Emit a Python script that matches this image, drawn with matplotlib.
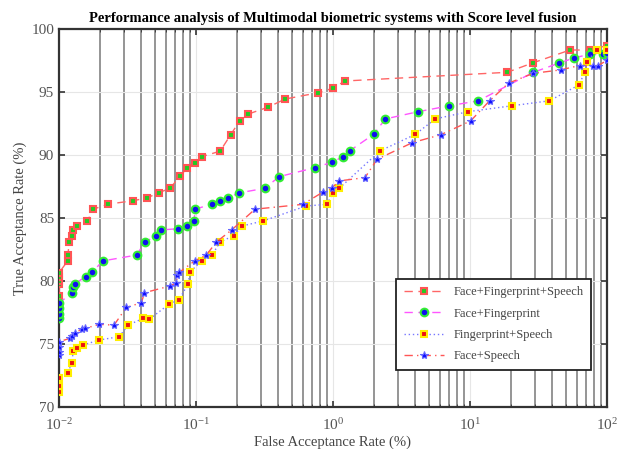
import matplotlib
matplotlib.use("Agg")
import matplotlib.pyplot as plt
from matplotlib.ticker import LogLocator, NullFormatter, MultipleLocator

plt.rcParams["font.family"] = ["Liberation Serif", "DejaVu Serif"]
plt.rcParams["mathtext.fontset"] = "stix"

# ── data (FAR %, TAR %) ──────────────────────────────────────────────────
far_ffs = [0.01, 0.01, 0.01, 0.01, 0.01, 0.0116, 0.0116, 0.0119, 0.0124, 0.0127,
           0.0135, 0.0161, 0.0178, 0.0229, 0.0348, 0.0441, 0.0534, 0.0645,
           0.0764, 0.0863, 0.0988, 0.110, 0.150, 0.179, 0.208, 0.241, 0.337,
           0.447, 0.782, 1.0, 1.22, 18.7, 28.6, 53.7, 75.1, 99.5]
tar_ffs = [78.8, 79.74, 80.03, 80.34, 80.66, 81.6, 82.06, 83.1, 83.57, 84.05,
           84.37, 84.76, 85.7, 86.1, 86.37, 86.6, 87.0, 87.35,
           88.3, 89.0, 89.4, 89.87, 90.3, 91.6, 92.7, 93.25, 93.8,
           94.44, 94.94, 95.3, 95.87, 96.56, 97.3, 98.33, 98.33, 98.68]

far_ff = [0.01, 0.01, 0.01, 0.01, 0.0124, 0.0127, 0.0131, 0.0157, 0.0175,
          0.0208, 0.0369, 0.0424, 0.0511, 0.0553, 0.0741, 0.0853, 0.0967,
          0.0988, 0.130, 0.150, 0.172, 0.207, 0.318, 0.404, 0.742, 0.98,
          1.19, 1.32, 1.98, 2.41, 4.2, 7.03, 11.5, 29.0, 44.9, 57.4, 75.1,
          93.0, 100.0]
tar_ff = [77.04, 77.38, 77.83, 78.23, 79.07, 79.55, 79.8, 80.34, 80.69,
          81.59, 82.06, 83.1, 83.57, 84.05, 84.15, 84.37, 84.76,
          85.7, 86.1, 86.35, 86.6, 87.0, 87.35, 88.28, 89.0, 89.42,
          89.87, 90.32, 91.64, 92.86, 93.44, 93.9, 94.3, 96.56, 97.3, 97.7, 98.0,
          98.0, 98.07]

far_fs = [0.01, 0.01, 0.01, 0.0116, 0.0124, 0.0127, 0.0135, 0.015, 0.0197,
          0.0275, 0.032, 0.0412, 0.0456, 0.0637, 0.075, 0.0879, 0.0902, 0.110,
          0.131, 0.150, 0.189, 0.218, 0.308, 0.635, 0.9, 1.0, 1.11, 2.2, 4.0,
          5.56, 9.73, 20.1, 38.0, 62.5, 69.0, 71.0, 84.0, 100.0]
tar_fs = [71.17, 71.7, 72.27, 72.7, 73.5, 74.44, 74.65, 74.92, 75.32,
          75.58, 76.5, 77.04, 76.96, 78.17, 78.5, 79.8, 80.7, 81.6,
          82.06, 83.1, 83.6, 84.37, 84.76, 85.95, 86.08, 87.0, 87.35, 90.32, 91.64,
          92.86, 93.44, 93.9, 94.3, 95.56, 96.6, 97.4, 98.33, 98.33]

far_fsp = [0.01, 0.01, 0.01, 0.01, 0.012, 0.0125, 0.013, 0.0146, 0.0155,
           0.0197, 0.0252, 0.031, 0.040, 0.042, 0.0645, 0.072, 0.073, 0.0755,
           0.098, 0.119, 0.141, 0.182, 0.27, 0.6, 0.84, 0.98, 1.1, 1.71, 2.1,
           3.8, 6.1, 10.1, 13.9, 19.1, 29.0, 45.8, 63.0, 78.5, 86.0, 100.0]
tar_fsp = [74.13, 74.39, 74.79, 75.18, 75.45, 75.66, 75.85, 76.17, 76.24,
           76.56, 76.5, 77.9, 78.28, 79.07, 79.6, 79.87, 80.48, 80.69,
           81.6, 82.06, 83.1, 84.05, 85.7, 86.08, 87.04, 87.35, 87.94, 88.2, 89.66,
           90.98, 91.6, 92.7, 94.3, 95.7, 96.48, 96.75, 97.1, 97.1, 97.1, 97.5]

fig = plt.figure(figsize=(6.25, 4.49), dpi=100)
ax = fig.add_axes([0.0944, 0.0935, 0.8768, 0.842])

ax.plot(far_ffs, tar_ffs, linestyle=(0, (6, 4)), color="#ff6666", lw=1.0,
        marker="s", markersize=5, markerfacecolor="#22cc22",
        markeredgecolor="#ff5555", markeredgewidth=1.5,
        label="Face+Fingerprint+Speech", zorder=4)
ax.plot(far_ff, tar_ff, linestyle=(0, (6, 4)), color="#ff55ff", lw=1.0,
        marker="o", markersize=5.5, markerfacecolor="#1010ee",
        markeredgecolor="#33ee33", markeredgewidth=1.5,
        label="Face+Fingerprint", zorder=4)
ax.plot(far_fs, tar_fs, linestyle=(0, (1, 2)), color="#7777ff", lw=1.0,
        marker="s", markersize=4.5, markerfacecolor="#ee1111",
        markeredgecolor="#ffee00", markeredgewidth=1.5,
        label="Fingerprint+Speech", zorder=4)
ax.plot(far_fsp, tar_fsp, linestyle=(0, (6, 3, 1, 3)), color="#ff5555", lw=1.0,
        marker="*", markersize=6, markerfacecolor="#1010ff",
        markeredgecolor="#6666ff", markeredgewidth=0.8,
        label="Face+Speech", zorder=4)

ax.set_xscale("log")
ax.set_xlim(0.01, 100)
ax.set_ylim(70, 100)
ax.yaxis.set_major_locator(MultipleLocator(5))
ax.xaxis.set_major_locator(LogLocator(base=10, numticks=10))
ax.xaxis.set_minor_locator(LogLocator(base=10, subs=range(2, 10), numticks=20))
ax.xaxis.set_minor_formatter(NullFormatter())

ax.grid(True, which="major", axis="both", color="#e6e6e6", lw=0.8, zorder=0)
ax.grid(True, which="minor", axis="x", color="#8c8c8c", lw=1.3, zorder=0)
ax.set_axisbelow(True)

ax.tick_params(which="both", direction="in", top=True, right=True,
               labelsize=11, colors="#333333", labelcolor="#555555")
ax.tick_params(which="major", length=4, width=1.2)
ax.tick_params(which="minor", length=2)
ax.tick_params(axis="x", which="major", pad=7)
for s in ax.spines.values():
    s.set_color("#333333")
    s.set_linewidth(1.6)

ax.set_xlabel("False Acceptance Rate (%)", fontsize=10.5, color="#444444", labelpad=2)
ax.set_ylabel("True Acceptance Rate (%)", fontsize=10.5, color="#444444", labelpad=3)
ax.set_title("Performance analysis of Multimodal biometric systems with Score level fusion",
             fontsize=10.5, fontweight="bold", pad=5)

leg = ax.legend(loc="upper left", bbox_to_anchor=(0.615, 0.339),
                borderaxespad=0, fontsize=9, frameon=True, fancybox=False,
                framealpha=1, edgecolor="#222222", handlelength=3.2,
                labelspacing=0.75, borderpad=0.6)
leg.get_frame().set_linewidth(1.3)
for t in leg.get_texts():
    t.set_color("#444444")

fig.savefig("out.png", dpi=100, facecolor="white")
